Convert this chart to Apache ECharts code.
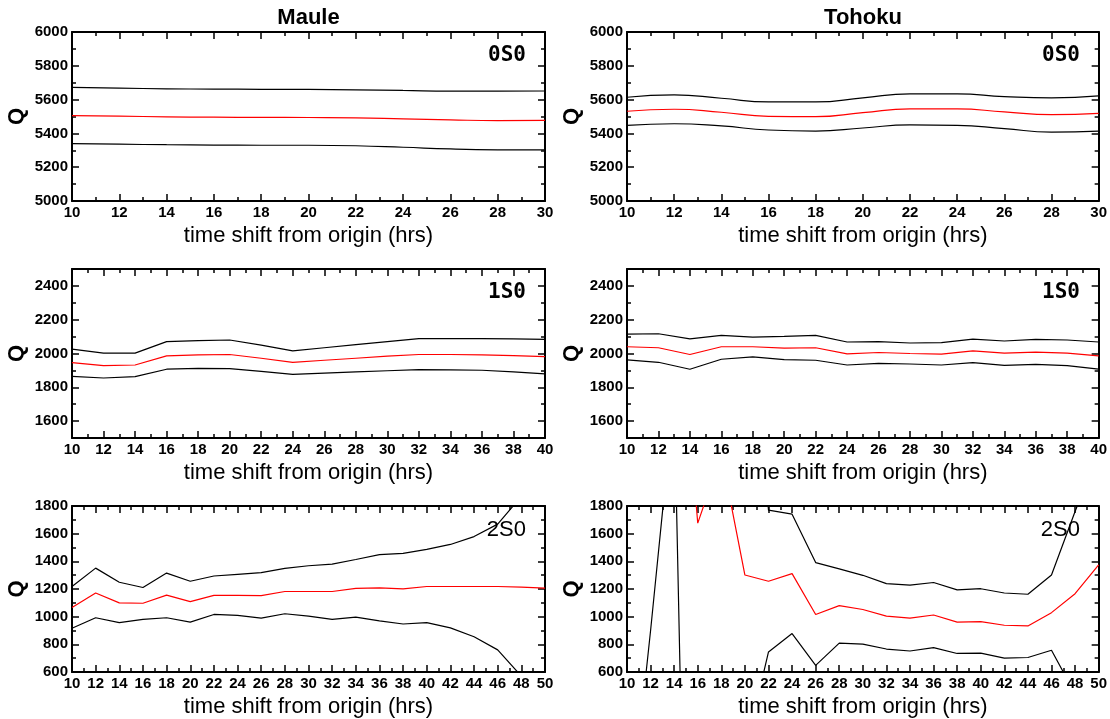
<!DOCTYPE html>
<html>
<head>
<meta charset="utf-8">
<title>Q vs time shift from origin</title>
<script src="https://cdn.jsdelivr.net/npm/echarts@6/dist/echarts.min.js"></script>
<style>
html, body { margin: 0; padding: 0; background: #fff; }
#chart { width: 1110px; height: 719px; }
</style>
</head>
<body>
<div id="chart"></div>
<script>
// time shift (hrs) for each row of panels
const hrs0 = [10, 12, 14, 16, 18, 20, 22, 24, 26, 28, 30];
const hrs1 = [10, 12, 14, 16, 18, 20, 22, 24, 26, 28, 30, 32, 34, 36, 38, 40];
const hrs2 = [10, 12, 14, 16, 18, 20, 22, 24, 26, 28, 30, 32, 34, 36, 38, 40, 42, 44, 46, 48, 50];

// tick labels
const xTicks0 = [10, 12, 14, 16, 18, 20, 22, 24, 26, 28, 30];
const xTicks1 = [10, 12, 14, 16, 18, 20, 22, 24, 26, 28, 30, 32, 34, 36, 38, 40];
const xTicks2 = [10, 12, 14, 16, 18, 20, 22, 24, 26, 28, 30, 32, 34, 36, 38, 40, 42, 44, 46, 48, 50];
const yTicks0 = [5000, 5200, 5400, 5600, 5800, 6000];
const yTicks1 = [1600, 1800, 2000, 2200, 2400];
const yTicks2 = [600, 800, 1000, 1200, 1400, 1600, 1800];

// Maule 0S0
const mauleHi0 = [5672, 5668, 5664, 5662, 5661, 5660, 5658, 5654, 5650, 5650, 5651];
const mauleMid0 = [5505, 5502, 5498, 5496, 5495, 5494, 5492, 5486, 5480, 5476, 5477];
const mauleLo0 = [5340, 5336, 5333, 5331, 5330, 5330, 5327, 5318, 5308, 5303, 5302];
// Tohoku 0S0
const tohokuHi0 = [5614, 5628, 5608, 5586, 5586, 5610, 5634, 5634, 5618, 5610, 5622];
const tohokuMid0 = [5531, 5543, 5525, 5501, 5499, 5523, 5545, 5545, 5527, 5511, 5519];
const tohokuLo0 = [5448, 5457, 5444, 5420, 5414, 5432, 5451, 5448, 5428, 5408, 5414];
// Maule 1S0
const mauleHi1 = [2026, 2002, 2002, 2070, 2076, 2080, 2050, 2016, 2034, 2052, 2070, 2088, 2088, 2088, 2086, 2084];
const mauleMid1 = [1946, 1928, 1932, 1986, 1992, 1994, 1972, 1948, 1960, 1972, 1984, 1994, 1994, 1992, 1988, 1982];
const mauleLo1 = [1865, 1855, 1863, 1907, 1912, 1910, 1894, 1877, 1884, 1891, 1898, 1905, 1903, 1901, 1891, 1879];
// Tohoku 1S0
const tohokuHi1 = [2115, 2117, 2087, 2107, 2097, 2101, 2107, 2068, 2070, 2062, 2064, 2085, 2074, 2083, 2080, 2068];
const tohokuMid1 = [2040, 2034, 1994, 2040, 2040, 2032, 2034, 1998, 2006, 2000, 1996, 2016, 2002, 2008, 2002, 1986];
const tohokuLo1 = [1962, 1948, 1907, 1966, 1980, 1964, 1960, 1932, 1942, 1938, 1932, 1946, 1930, 1936, 1928, 1907];
// Maule 2S0
const mauleHi2 = [1218, 1351, 1249, 1211, 1315, 1256, 1294, 1306, 1318, 1349, 1368, 1380, 1413, 1448, 1458, 1486, 1522, 1579, 1669, 1870, 2150];
const mauleMid2 = [1066, 1171, 1100, 1097, 1156, 1109, 1154, 1154, 1152, 1182, 1182, 1182, 1204, 1208, 1201, 1218, 1218, 1218, 1218, 1213, 1206];
const mauleLo2 = [916, 992, 957, 980, 992, 961, 1016, 1009, 990, 1021, 1004, 980, 997, 969, 947, 957, 919, 855, 760, 570, 300];
// Tohoku 2S0 (early values run far off the plotted range)
const tohokuHi2 = [4500, 5200, 6000, 4400, 4800, 3600, 1770, 1741, 1391, 1346, 1299, 1239, 1228, 1247, 1194, 1202, 1171, 1162, 1301, 1760, 2200];
const tohokuMid2 = [2600, 3000, 3700, 1676, 2172, 1301, 1256, 1311, 1016, 1080, 1052, 1004, 990, 1012, 961, 964, 938, 933, 1029, 1166, 1375];
const tohokuLo2 = [-700, 900, 2600, -5400, -2000, 20, 745, 878, 648, 809, 802, 766, 752, 776, 734, 736, 700, 705, 757, 443, 300];

const chart = echarts.init(document.getElementById('chart'));

const FONT = '"Liberation Sans", Helvetica, Arial, sans-serif';
const colLeft = [72, 627];
const colWidth = [473, 472];
const rowTop = [32, 269, 506];
const plotH = 169;

const panels = [
  { row: 0, col: 0, label: '0S0', hrs: hrs0, xTicks: xTicks0, yTicks: yTicks0, yMin: 5000, yMax: 6000, hi: mauleHi0, mid: mauleMid0, lo: mauleLo0 },
  { row: 0, col: 1, label: '0S0', hrs: hrs0, xTicks: xTicks0, yTicks: yTicks0, yMin: 5000, yMax: 6000, hi: tohokuHi0, mid: tohokuMid0, lo: tohokuLo0 },
  { row: 1, col: 0, label: '1S0', hrs: hrs1, xTicks: xTicks1, yTicks: yTicks1, yMin: 1500, yMax: 2500, hi: mauleHi1, mid: mauleMid1, lo: mauleLo1 },
  { row: 1, col: 1, label: '1S0', hrs: hrs1, xTicks: xTicks1, yTicks: yTicks1, yMin: 1500, yMax: 2500, hi: tohokuHi1, mid: tohokuMid1, lo: tohokuLo1 },
  { row: 2, col: 0, label: '2S0', hrs: hrs2, xTicks: xTicks2, yTicks: yTicks2, yMin: 600, yMax: 1800, hi: mauleHi2, mid: mauleMid2, lo: mauleLo2 },
  { row: 2, col: 1, label: '2S0', hrs: hrs2, xTicks: xTicks2, yTicks: yTicks2, yMin: 600, yMax: 1800, hi: tohokuHi2, mid: tohokuMid2, lo: tohokuLo2 }
];

const grid = [];
const xAxis = [];
const yAxis = [];
const series = [];
const title = [
  { text: 'Maule', left: colLeft[0] + colWidth[0] / 2, top: 7, textAlign: 'center', padding: 0,
    textStyle: { fontFamily: FONT, fontSize: 22, fontWeight: 'bold', color: '#000' } },
  { text: 'Tohoku', left: colLeft[1] + colWidth[1] / 2, top: 7, textAlign: 'center', padding: 0,
    textStyle: { fontFamily: FONT, fontSize: 22, fontWeight: 'bold', color: '#000' } }
];

const tickLine = { color: '#000', width: 1.5 };

// minor axis draws the frame line and short ticks, major axis the long ticks and labels
function addAxisPair(list, gridIndex, position, min, max, minorStep, majors, withLabels, extra) {
  const first = list.length;
  list.push({
    type: 'value', gridIndex, position, min, max, interval: minorStep,
    axisLine: { show: true, onZero: false, lineStyle: { color: '#000', width: 2 } },
    axisTick: { show: true, inside: true, length: 4, lineStyle: tickLine },
    axisLabel: { show: false },
    splitLine: { show: false }
  });
  list.push(Object.assign({
    type: 'value', gridIndex, position, min, max,
    axisLine: { show: false, onZero: false },
    axisTick: { show: true, inside: true, length: 7, customValues: majors, lineStyle: tickLine },
    axisLabel: {
      show: withLabels, customValues: majors, margin: 4,
      formatter: (v) => String(v),
      fontFamily: FONT, fontSize: 15, fontWeight: 'bold', color: '#000'
    },
    splitLine: { show: false }
  }, extra || {}));
  return first;
}

panels.forEach((p, g) => {
  grid.push({ left: colLeft[p.col], top: rowTop[p.row], width: colWidth[p.col], height: plotH });
  const xMin = p.xTicks[0];
  const xMax = p.xTicks[p.xTicks.length - 1];
  const xi = addAxisPair(xAxis, g, 'bottom', xMin, xMax, 1, p.xTicks, true, {
    name: 'time shift from origin (hrs)', nameLocation: 'middle', nameGap: 24,
    nameTextStyle: { fontFamily: FONT, fontSize: 22, color: '#000' }
  });
  addAxisPair(xAxis, g, 'top', xMin, xMax, 1, p.xTicks, false);
  const yi = addAxisPair(yAxis, g, 'left', p.yMin, p.yMax, 100, p.yTicks, true, {
    name: 'Q', nameLocation: 'middle', nameGap: 44,
    nameTextStyle: { fontFamily: FONT, fontSize: 22, fontWeight: 'bold', color: '#000' }
  });
  addAxisPair(yAxis, g, 'right', p.yMin, p.yMax, 100, p.yTicks, false);

  const lines = [[p.hi, '#000'], [p.lo, '#000'], [p.mid, '#ff0000']];
  lines.forEach(([vals, color]) => {
    series.push({
      type: 'line',
      xAxisIndex: xi,
      yAxisIndex: yi,
      data: p.hrs.map((h, i) => [h, vals[i]]),
      showSymbol: false,
      symbol: 'none',
      smooth: p.row === 0 ? 0.5 : false,
      clip: true,
      lineStyle: { color, width: 1.2 },
      silent: true
    });
  });

  // panel mode label, top right corner
  const mono = p.row < 2;
  title.push({
    text: p.label,
    left: colLeft[p.col] + colWidth[p.col] - 19,
    top: rowTop[p.row] + 13,
    textAlign: 'right',
    padding: 0,
    textStyle: {
      fontFamily: mono ? '"DejaVu Sans Mono", monospace' : FONT,
      fontSize: mono ? 21 : 22,
      fontWeight: mono ? 'bold' : 'normal',
      color: '#000'
    }
  });
});

chart.setOption({
  animation: false,
  backgroundColor: '#fff',
  title,
  grid,
  xAxis,
  yAxis,
  series
});
</script>
</body>
</html>
